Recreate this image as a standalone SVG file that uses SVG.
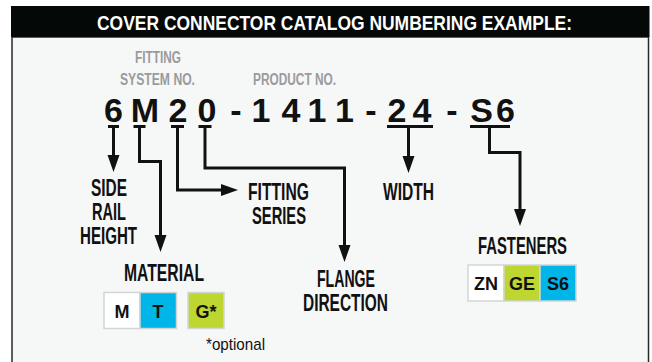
<svg xmlns="http://www.w3.org/2000/svg" width="652" height="362" viewBox="0 0 652 362">
<style>
.hd{font-family:"Liberation Sans",Arial,sans-serif;font-weight:bold;font-size:21px;fill:#fff}
.gl{font-family:"Liberation Sans",Arial,sans-serif;font-weight:bold;font-size:16px;fill:#9a9b9d;text-anchor:middle}
.cd{font-family:"Liberation Sans",Arial,sans-serif;font-weight:bold;font-size:34px;fill:#111;text-anchor:middle}
.lb{font-family:"Liberation Sans",Arial,sans-serif;font-weight:bold;font-size:23px;fill:#111;text-anchor:middle}
.bx{font-family:"Liberation Sans",Arial,sans-serif;font-weight:bold;font-size:18px;fill:#111;text-anchor:middle}
.op{font-family:"Liberation Sans",Arial,sans-serif;font-size:17px;fill:#111;text-anchor:middle}
.ln{fill:none;stroke:#111;stroke-width:3;stroke-linejoin:miter}
.ah{fill:#111}
</style>
<rect x="0" y="0" width="652" height="362" fill="#fff"/>
<rect x="12" y="37" width="636.5" height="330" fill="#f6f7f7" stroke="#2a2a2a" stroke-width="1.5"/>
<rect x="11" y="6" width="638.5" height="31" fill="#040807"/>
<text class="hd" x="97" y="30" textLength="475" lengthAdjust="spacingAndGlyphs">COVER CONNECTOR CATALOG NUMBERING EXAMPLE:</text>

<g id="code-labels">
<text class="gl" x="158" y="63" textLength="46" lengthAdjust="spacingAndGlyphs">FITTING</text>
<text class="gl" x="157.5" y="85" textLength="75" lengthAdjust="spacingAndGlyphs">SYSTEM NO.</text>
<text class="gl" x="294.5" y="85" textLength="83" lengthAdjust="spacingAndGlyphs">PRODUCT NO.</text>
</g>

<g id="code">
<text class="cd" x="113.5" y="122">6</text>
<text class="cd" x="145" y="122">M</text>
<text class="cd" x="178" y="122">2</text>
<text class="cd" x="207" y="122">0</text>
<text class="cd" x="236" y="122">-</text>
<text class="cd" x="261" y="122">1</text>
<text class="cd" x="291" y="122">4</text>
<text class="cd" x="317" y="122">1</text>
<text class="cd" x="344.5" y="122">1</text>
<text class="cd" x="371" y="122">-</text>
<text class="cd" x="397" y="122">2</text>
<text class="cd" x="422" y="122">4</text>
<text class="cd" x="452" y="122">-</text>
<text class="cd" x="481.5" y="122">S</text>
<text class="cd" x="505.5" y="122">6</text>
</g>

<g id="connectors">
<path class="ln" d="M108 126.5H119M113.5 126.5V156"/>
<polygon class="ah" points="107.5,155 119.5,155 113.5,172"/>
<path class="ln" d="M133.5 126.5H145.5M139.5 126.5V161.5H160.5V236"/>
<polygon class="ah" points="154.5,235 166.5,235 160.5,252"/>
<path class="ln" d="M171 126.5H184M177.5 126.5V190H222"/>
<polygon class="ah" points="221,184 221,196 238,190"/>
<path class="ln" d="M198.5 126.5H211.5M205 126.5V168H344.5V246"/>
<polygon class="ah" points="338.5,245 350.5,245 344.5,262"/>
<path class="ln" d="M387 126.5H433M408.5 126.5V157"/>
<polygon class="ah" points="402.5,156 414.5,156 408.5,173"/>
<path class="ln" d="M470 126.5H510M489.5 126.5V152.5H520V210"/>
<polygon class="ah" points="514,209 526,209 520,226"/>
</g>

<g id="side-rail-height">
<text class="lb" x="109" y="196" textLength="36" lengthAdjust="spacingAndGlyphs">SIDE</text>
<text class="lb" x="109" y="220" textLength="34" lengthAdjust="spacingAndGlyphs">RAIL</text>
<text class="lb" x="108.5" y="244" textLength="57" lengthAdjust="spacingAndGlyphs">HEIGHT</text>
</g>

<g id="fitting-series">
<text class="lb" x="278.5" y="200" textLength="61" lengthAdjust="spacingAndGlyphs">FITTING</text>
<text class="lb" x="279" y="224" textLength="54" lengthAdjust="spacingAndGlyphs">SERIES</text>
</g>

<g id="material">
<text class="lb" x="164" y="281" textLength="80" lengthAdjust="spacingAndGlyphs">MATERIAL</text>
<rect x="104" y="292.5" width="36" height="36" fill="#fff" stroke="#d2d5d6" stroke-width="1.5"/>
<rect x="140" y="292.5" width="36.5" height="36" fill="#00b5e7" stroke="#d2d5d6" stroke-width="1.5"/>
<rect x="188" y="292.5" width="36" height="36" fill="#bed630" stroke="#d2d5d6" stroke-width="1.5"/>
<text class="bx" x="122" y="318">M</text>
<text class="bx" x="158" y="318">T</text>
<text class="bx" x="206" y="318">G*</text>
<text class="op" x="235.5" y="350" textLength="59" lengthAdjust="spacingAndGlyphs">*optional</text>
</g>

<g id="flange-direction">
<text class="lb" x="346" y="287" textLength="58" lengthAdjust="spacingAndGlyphs">FLANGE</text>
<text class="lb" x="345.5" y="311" textLength="85" lengthAdjust="spacingAndGlyphs">DIRECTION</text>
</g>

<g id="width">
<text class="lb" x="408.5" y="200" textLength="51" lengthAdjust="spacingAndGlyphs">WIDTH</text>
</g>

<g id="fasteners">
<text class="lb" x="522.5" y="254" textLength="89" lengthAdjust="spacingAndGlyphs">FASTENERS</text>
<rect x="468" y="265" width="36" height="36" fill="#fff" stroke="#d2d5d6" stroke-width="1.5"/>
<rect x="504" y="265" width="36" height="36" fill="#bed630" stroke="#d2d5d6" stroke-width="1.5"/>
<rect x="540" y="265" width="36" height="36" fill="#00b5e7" stroke="#d2d5d6" stroke-width="1.5"/>
<text class="bx" x="486" y="290">ZN</text>
<text class="bx" x="522" y="290">GE</text>
<text class="bx" x="558" y="290">S6</text>
</g>
</svg>
